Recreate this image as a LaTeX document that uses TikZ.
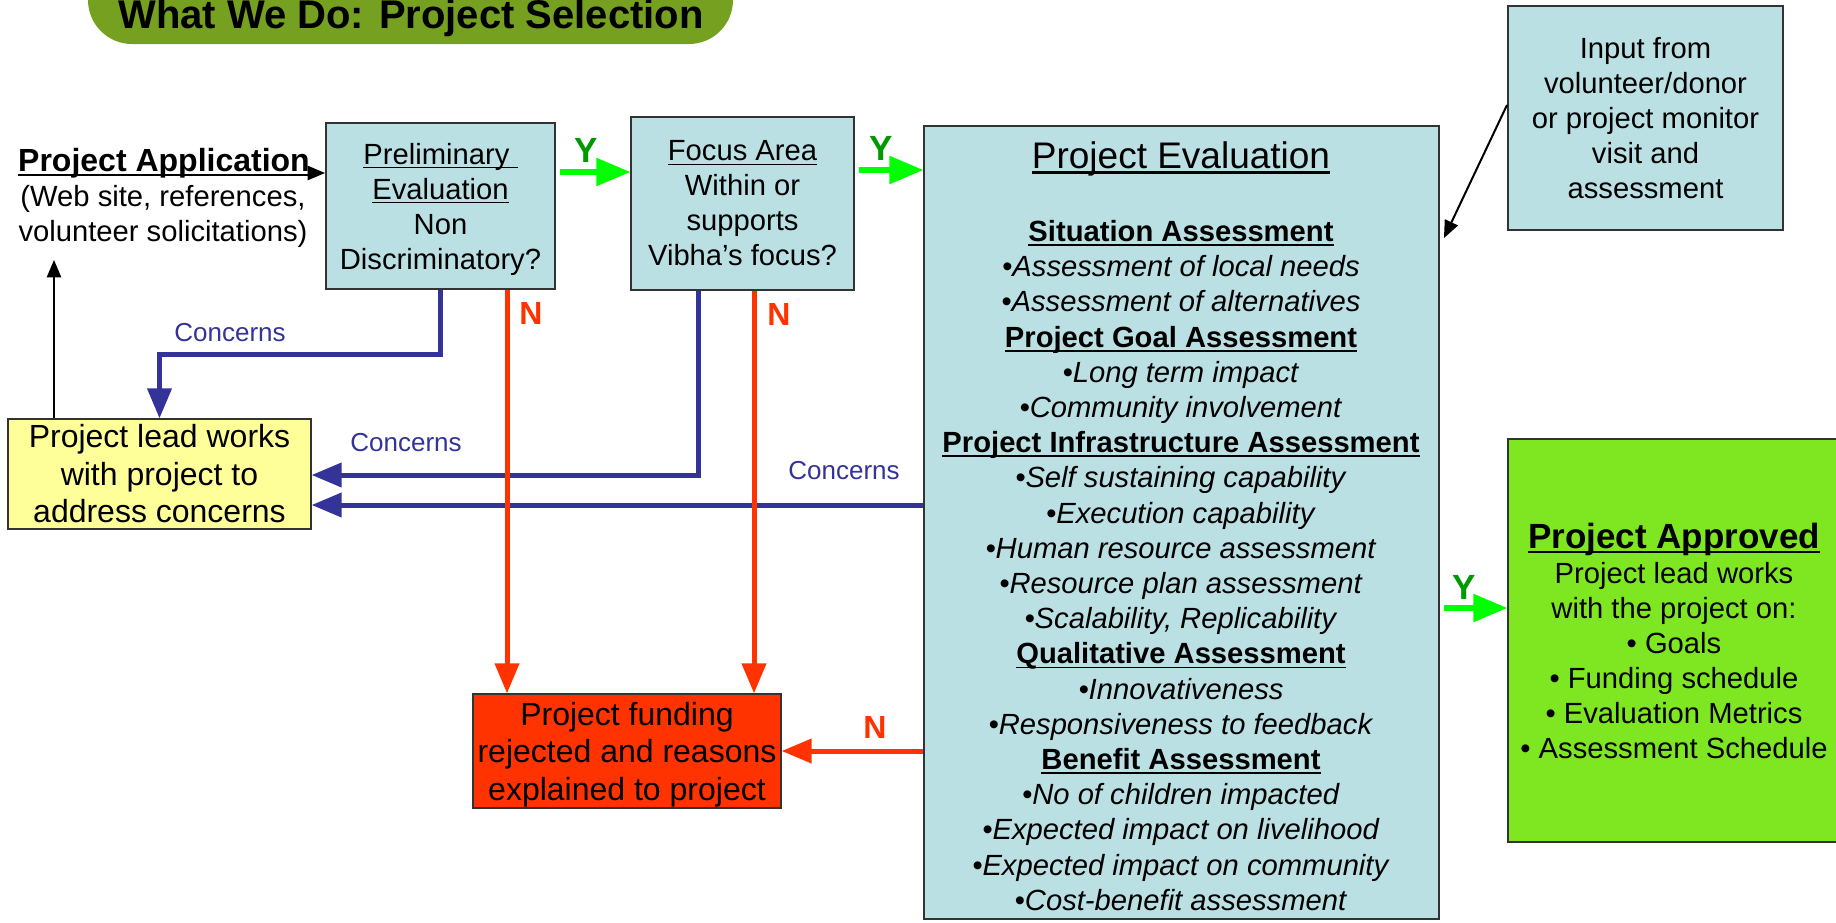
\documentclass[tikz,border=0pt]{standalone}
\usepackage{fontspec}
\setmainfont{Liberation Sans}
\usepackage{xcolor}
\usetikzlibrary{arrows,positioning}

\definecolor{boxblue}{RGB}{187,224,227}
\definecolor{leadyellow}{RGB}{255,255,153}
\definecolor{rejectred}{RGB}{255,51,0}
\definecolor{okgreen}{RGB}{127,231,34}
\definecolor{bannergreen}{RGB}{118,160,32}
\definecolor{concernblue}{RGB}{51,51,153}
\definecolor{ygreen}{RGB}{0,153,0}
\definecolor{yarrow}{RGB}{0,255,0}

% underline close to the baseline
\newcommand{\undertext}[1]{\setbox0\hbox{#1}\rlap{\rule[-0.15em]{\wd0}{0.06em}}\box0}

\tikzset{
	x=0.5pt, y=-0.5pt, % pixel grid, y grows downwards
	>=triangle 45, % plain filled heads
	box/.style={draw=black!80, line width=1pt, fill=boxblue, align=center, inner sep=0pt},
	concernline/.style={->, draw=concernblue, line width=2.5pt},
	noline/.style={->, draw=rejectred, line width=2.5pt},
	yesline/.style={->, draw=yarrow, line width=3pt, shorten <=2pt},
	thinarrow/.style={->, draw=black, line width=1pt},
	ymark/.style={text=ygreen, font=\fontsize{17.5}{20}\selectfont\bfseries},
	nmark/.style={text=rejectred, font=\fontsize{16}{19}\selectfont\bfseries},
	concernlabel/.style={text=concernblue, font=\fontsize{13}{15}\selectfont},
}

\begin{document}
\begin{tikzpicture}[font=\fontsize{14.6}{17.5}\selectfont]
\useasboundingbox (0,0) rectangle (1836,922);

% title banner
\fill[bannergreen, rounded corners=22pt] (88,-80) rectangle (733,44);
\node[anchor=base, font=\fontsize{20}{24}\selectfont\bfseries] (title) at (411,28) {What We Do: Project Selection};

% where projects come from
\node[anchor=base, inner sep=0pt, font=\fontsize{16}{18}\selectfont\bfseries] (app) at (164,171.5) {\undertext{Project Application}};
\node[align=center, inner sep=0pt] (appsub) at (163,216) {(Web site, references,\\volunteer solicitations)};

% screening boxes
\node[box, minimum width=114.5pt, minimum height=83pt, text depth=0pt] (prelim) at (440.5,206) {\undertext{Preliminary\ }\\\undertext{Evaluation}\\Non\\Discriminatory?};
\node[box, minimum width=111.5pt, minimum height=86.5pt] (focus) at (742.5,203.5) {\undertext{Focus Area}\\Within or\\supports\\Vibha’s focus?};
\node[box, minimum width=137.5pt, minimum height=112pt] (input) at (1645.5,118) {Input from\\volunteer/donor\\or project monitor\\visit and\\assessment};

% evaluation
\node[box, minimum width=257.5pt, minimum height=396.5pt] (eval) at (1181.5,522.5) {};
\node[anchor=base, font=\fontsize{18.5}{22}\selectfont] (evalhead) at (1181,168) {\undertext{Project Evaluation}};
\node[align=center, inner sep=0pt, font=\fontsize{14.6}{17.6}\selectfont] (evallist) at (1181,565.5) {%
\textbf{\undertext{Situation Assessment}}\\
\textit{•Assessment of local needs}\\
\textit{•Assessment of alternatives}\\
\textbf{\undertext{Project Goal Assessment}}\\
\textit{•Long term impact}\\
\textit{•Community involvement}\\
\textbf{\undertext{Project Infrastructure Assessment}}\\
\textit{•Self sustaining capability}\\
\textit{•Execution capability}\\
\textit{•Human resource assessment}\\
\textit{•Resource plan assessment}\\
\textit{•Scalability, Replicability}\\
\textbf{\undertext{Qualitative Assessment}}\\
\textit{•Innovativeness}\\
\textit{•Responsiveness to feedback}\\
\textbf{\undertext{Benefit Assessment}}\\
\textit{•No of children impacted}\\
\textit{•Expected impact on livelihood}\\
\textit{•Expected impact on community}\\
\textit{•Cost-benefit assessment}};

% outcomes
\node[box, fill=leadyellow, minimum width=151.5pt, minimum height=55pt, font=\fontsize{16}{18.75}\selectfont] (lead) at (159.5,474) {Project lead works\\with project to\\address concerns};
\node[box, fill=rejectred, minimum width=154pt, minimum height=57pt, text depth=0pt, font=\fontsize{16}{18.75}\selectfont] (reject) at (627,751) {Project funding\\rejected and reasons\\explained to project};
\node[box, fill=okgreen, minimum width=166pt, minimum height=201.5pt] (approved) at (1674,640.5) {{\fontsize{17.5}{21}\selectfont\textbf{\undertext{Project Approved}}}\\Project lead works\\with the project on:\\• Goals\\• Funding schedule\\• Evaluation Metrics\\• Assessment Schedule};

% rows and columns of the connectors
\coordinate (approw) at (0,173);
\coordinate (upend) at (54,260);
\coordinate (yrow1) at (0,172);
\coordinate (yrow2) at (0,170);
\coordinate (yrow3) at (0,608);
\coordinate (bend1) at (441,354);
\coordinate (bend2) at (698,475);
\coordinate (crow) at (0,505);
\coordinate (ncol1) at (507,0);
\coordinate (ncol2) at (754,0);
\coordinate (evalin) at (1444,238);

\draw[thinarrow] (app.east |- approw) -- (prelim.west |- approw);
\draw[thinarrow] (lead.north -| upend) -- (upend);
\draw[thinarrow] ([yshift=6.5pt]input.west) -- (evalin);

\draw[yesline] (prelim.east |- yrow1) -- (focus.west |- yrow1);
\draw[yesline] (focus.east |- yrow2) -- (eval.west |- yrow2);
\draw[yesline] (eval.east |- yrow3) -- (approved.west |- yrow3);
\node[ymark] (y1) at (586,150) {Y};
\node[ymark] (y2) at (881,148) {Y};
\node[ymark] (y3) at (1464,587) {Y};

\draw[concernline] (prelim.south) |- (lead.north |- bend1) -- (lead.north);
\draw[concernline] (focus.south -| bend2) |- (lead.east |- bend2);
\draw[concernline] (eval.west |- crow) -- (lead.east |- crow);
\node[concernlabel] (c1) at (230,333) {Concerns};
\node[concernlabel] (c2) at (406,443) {Concerns};
\node[concernlabel] (c3) at (844,471) {Concerns};

\draw[noline] (prelim.south -| ncol1) -- (reject.north -| ncol1);
\draw[noline] (focus.south -| ncol2) -- (reject.north -| ncol2);
\draw[noline] (eval.west |- reject.east) -- (reject.east);
\node[nmark] (n1) at (531,313) {N};
\node[nmark] (n2) at (779,314) {N};
\node[nmark] (n3) at (875,727) {N};
\end{tikzpicture}
\end{document}
